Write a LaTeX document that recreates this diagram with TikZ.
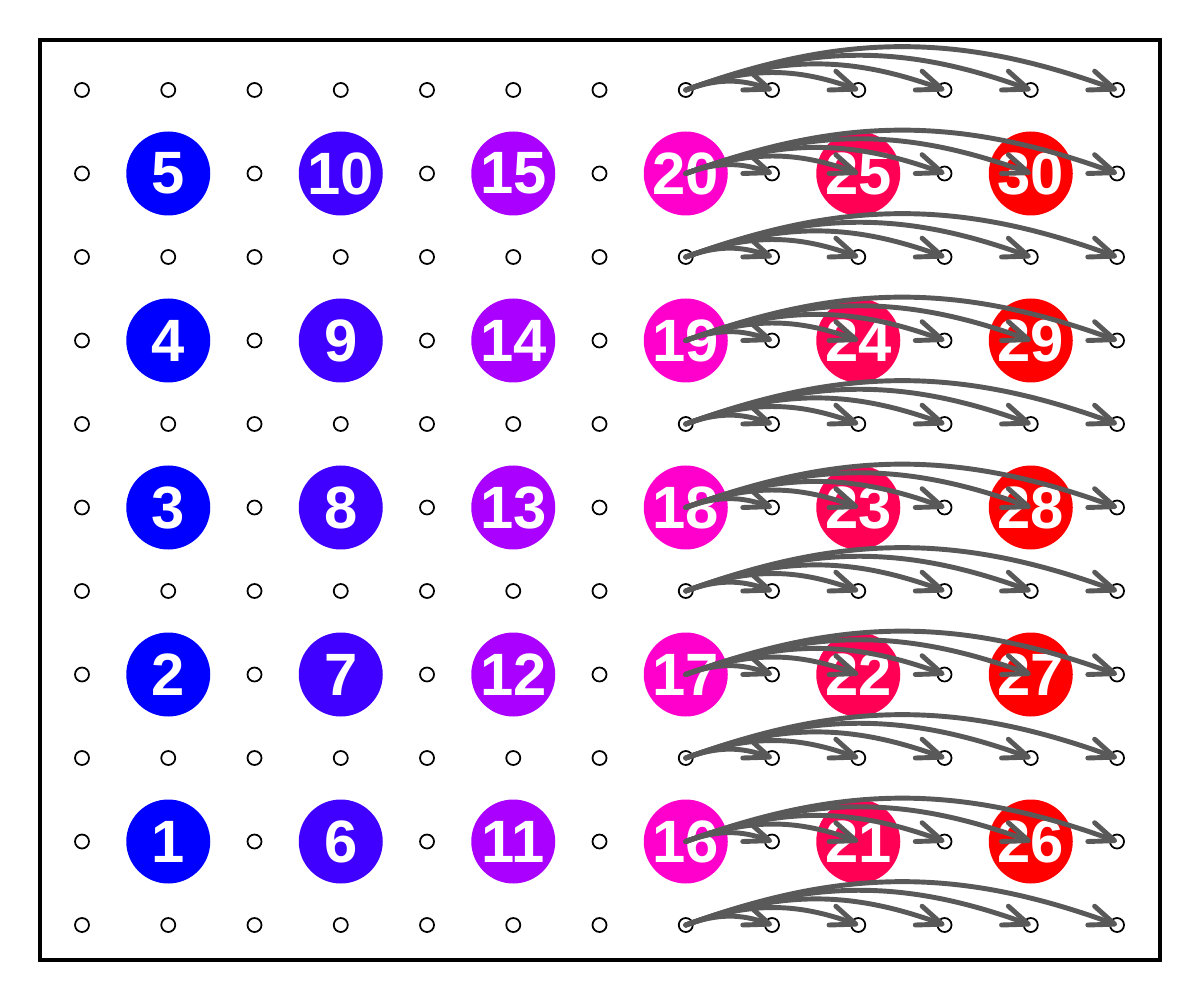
\documentclass[tikz,border=0pt]{standalone}
\usepackage{fontspec}
\setmainfont{Liberation Sans}
\usepackage{tikz}
\usetikzlibrary{arrows.meta}
\usepackage{xcolor}
\definecolor{colA}{RGB}{0,0,255}
\definecolor{colB}{RGB}{64,0,255}
\definecolor{colC}{RGB}{170,0,255}
\definecolor{colD}{RGB}{255,0,204}
\definecolor{colE}{RGB}{255,0,85}
\definecolor{colF}{RGB}{255,0,0}
\definecolor{arrgray}{RGB}{89,89,89}

\begin{document}
\begin{tikzpicture}[
	dot/.style={circle, draw=black, line width=1pt, minimum size=0.28cm, inner sep=0pt},
	big/.style={circle, minimum size=1.68cm, inner sep=0pt, text=white, font=\bfseries\fontsize{34}{34}\selectfont},
	arr/.style={draw=arrgray, line width=2.8pt, line cap=round, -{Straight Barb[length=5mm,width=4mm,round]}}
	]
	\useasboundingbox (0,0) rectangle (24,20);
	\draw[line width=2pt] (0.8,0.8) rectangle (23.2,19.2);
	
	% small dots
	\foreach \i in {0,...,12}
		\foreach \j in {0,2,...,10}
			\node[dot] (p-\i-\j) at ({1.64+1.725*\i},{1.5+1.67*\j}) {};
	\foreach \i in {0,2,...,12}
		\foreach \j in {1,3,...,9}
			\node[dot] (p-\i-\j) at ({1.64+1.725*\i},{1.5+1.67*\j}) {};
	
	% numbered circles
	\foreach \i/\c in {1/colA,3/colB,5/colC,7/colD,9/colE,11/colF}
		\foreach \j in {1,3,...,9} {
			\pgfmathtruncatemacro\n{(\i-1)/2*5+(\j+1)/2}
			\node[big, fill=\c] (p-\i-\j) at ({1.64+1.725*\i},{1.5+1.67*\j}) {\n};
		}
	
	% curved arrows
	\foreach \j in {0,...,10}
		\foreach \k in {8,...,12}
			\draw[arr] (p-7-\j.center) to[bend left=20] (p-\k-\j.center);
\end{tikzpicture}
\end{document}
